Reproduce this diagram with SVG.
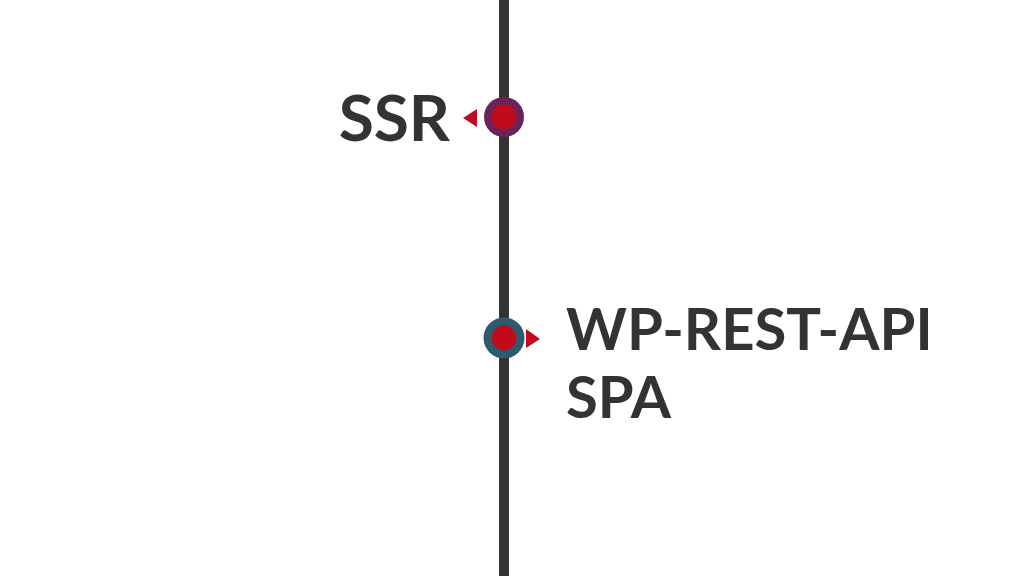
<svg xmlns="http://www.w3.org/2000/svg" width="1024" height="576" viewBox="0 0 1024 576">
<style>
.lbl{font-family:Lato,"Open Sans","Liberation Sans",sans-serif;font-weight:bold;font-size:58px;fill:#333333}
.dot{fill:#C10A1C}
.tri{fill:#C10A1C}
</style>
<rect width="1024" height="576" fill="#ffffff"/>
<g id="connectors">
<line x1="504" y1="0" x2="504" y2="576" stroke="#333333" stroke-width="10"/>
</g>
<g id="node-ssr">
<circle cx="504" cy="117" r="20" fill="#6B2358"/>
<circle class="dot" cx="504" cy="117" r="12.5"/>
<polygon class="tri" points="463,118 477,109 477,127"/>
<text class="lbl" x="450" y="141" text-anchor="end" style="font-size:64px">SSR</text>
</g>
<g id="node-wp">
<circle cx="504" cy="338" r="20.5" fill="#2E5A6D"/>
<circle class="dot" cx="504" cy="338" r="12.5"/>
<polygon class="tri" points="526,329 526,348 540,339"/>
<text class="lbl" x="566" y="350">WP-REST-API</text>
<text class="lbl" x="566" y="418">SPA</text>
</g>
</svg>
